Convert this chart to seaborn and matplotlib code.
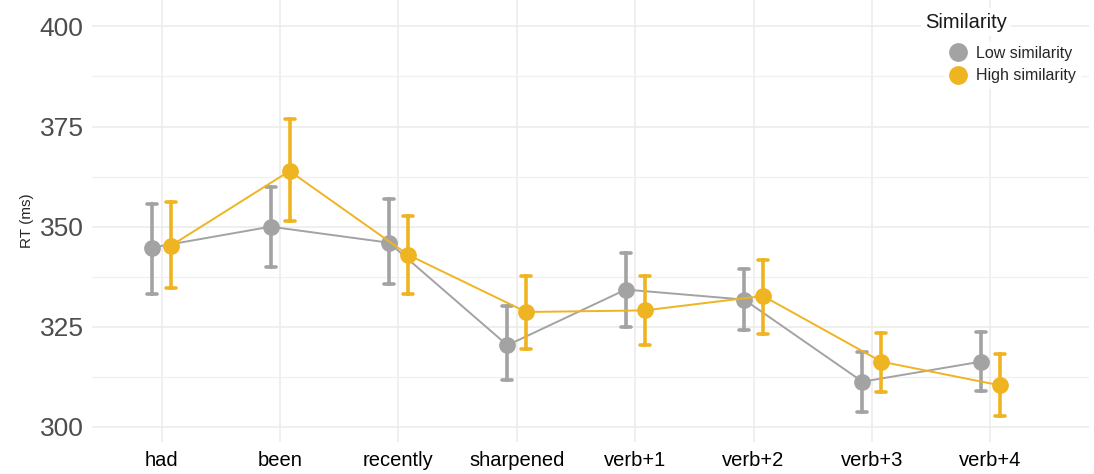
import pandas as pd
import matplotlib.pyplot as plt
import seaborn as sns
from matplotlib.lines import Line2D
from matplotlib.ticker import MultipleLocator

plt.switch_backend('Agg')

# regions and summary values (mean with lower / upper error bounds)
regions = ['had', 'been', 'recently', 'sharpened', 'verb+1', 'verb+2', 'verb+3', 'verb+4']
groups = ['Low similarity', 'High similarity']

low_mean = [344.8, 350.0, 346.0, 320.4, 334.3, 331.8, 311.3, 316.3]
low_lo = [333.3, 340.0, 335.6, 311.7, 325.0, 324.3, 303.8, 309.0]
low_hi = [355.7, 360.0, 357.0, 330.3, 343.5, 339.5, 318.7, 323.7]

high_mean = [345.3, 363.9, 343.0, 328.7, 329.1, 332.7, 316.3, 310.4]
high_lo = [334.8, 351.5, 333.3, 319.4, 320.4, 323.3, 308.8, 302.7]
high_hi = [356.2, 376.9, 352.7, 337.8, 337.8, 341.7, 323.5, 318.2]

colors = ['#A3A3A3', '#EFB422']

# long table: lo / mean / hi per cell -> median = mean, 100% interval = error bar
rows = []
for g, (m, lo, hi) in zip(groups, [(low_mean, low_lo, low_hi), (high_mean, high_lo, high_hi)]):
    for i, r in enumerate(regions):
        for v in (lo[i], m[i], hi[i]):
            rows.append({'region': r, 'Similarity': g, 'RT': v})
df = pd.DataFrame(rows)

sns.set_style('white')
plt.rcParams['font.family'] = ['Liberation Sans', 'DejaVu Sans']

W, H = 1094, 474
fig = plt.figure(figsize=(W / 100, H / 100), dpi=100)
ax = fig.add_axes([0.084, 0.068, 0.911, 0.932])

sns.pointplot(data=df, x='region', y='RT', hue='Similarity', order=regions, hue_order=groups,
              palette=colors, estimator='median', errorbar=('pi', 100), dodge=0.16,
              capsize=0.085, markersize=11, linewidth=1.4,
              err_kws={'linewidth': 2.6}, ax=ax)

ax.set_xlim(-0.59, 7.83)
ax.set_ylim(296.3, 406.6)
ax.yaxis.set_major_locator(MultipleLocator(25))
ax.yaxis.set_minor_locator(MultipleLocator(12.5))
ax.grid(True, which='major', color='#EBEBEB', linewidth=1.1)
ax.grid(True, which='minor', axis='y', color='#F0F0F0', linewidth=0.9)
ax.set_axisbelow(True)
for s in ax.spines.values():
    s.set_visible(False)
ax.tick_params(axis='y', which='both', length=0, labelsize=19, labelcolor='#4D4D4D', pad=6)
ax.tick_params(axis='x', length=0, labelsize=14.5, labelcolor='black', pad=7)
ax.set_xlabel('')
ax.set_ylabel('RT (ms)', fontsize=11, labelpad=4)

# legend: title as its own text box, entries with point markers only
fig.text(925 / W, 1 - 22 / H, 'Similarity', fontsize=14.5, color='#1A1A1A',
         ha='left', va='center',
         bbox=dict(facecolor='white', edgecolor='none', pad=3))
ax.get_legend().remove()
handles = [Line2D([], [], linestyle='none', marker='o', markersize=12.5,
                  color=c) for c in colors]
leg = fig.legend(handles, groups, loc='upper left',
                 bbox_to_anchor=(936 / W, 1 - 33 / H), frameon=True, fontsize=11.5,
                 handletextpad=0.5, handlelength=1.2, borderpad=0.3,
                 labelspacing=0.48)
leg.get_frame().set_facecolor('white')
leg.get_frame().set_edgecolor('white')
leg.get_frame().set_boxstyle('square', pad=0)

fig.savefig('out.png', dpi=100)
plt.close(fig)
